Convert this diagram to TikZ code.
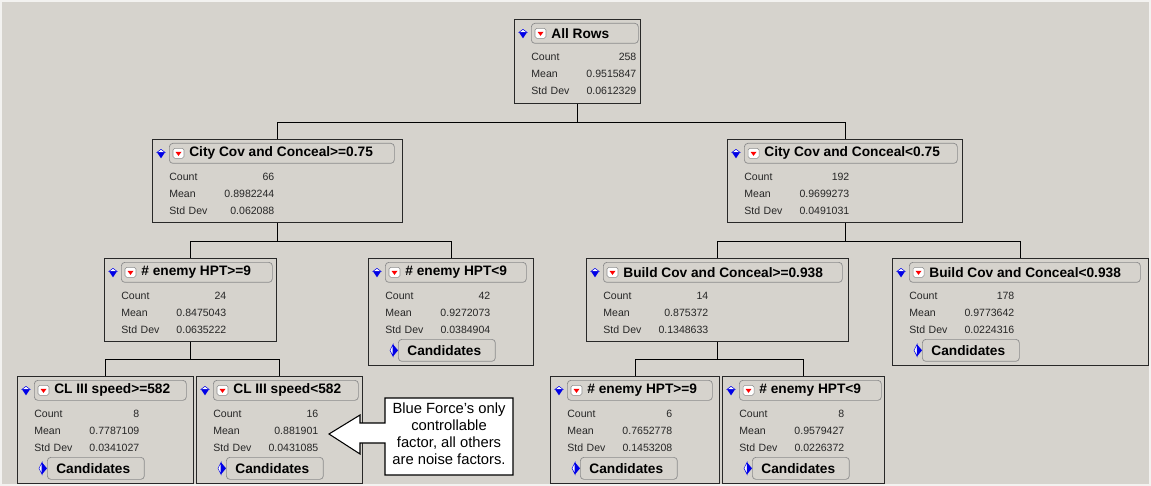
\documentclass[tikz,border=0pt]{standalone}
\usepackage{fontspec}
\setmainfont{Liberation Sans}

\definecolor{panel}{RGB}{214,211,205}
\definecolor{btnedge}{RGB}{140,140,140}
\definecolor{boxedge}{RGB}{40,40,40}
\definecolor{marker}{RGB}{0,0,230}

\tikzset{
  splitbox/.style={draw=boxedge, fill=panel, line width=0.6pt, inner sep=0pt},
  boxsize/.style 2 args={minimum width=#1*0.02cm, minimum height=#2*0.02cm},
  hdrbtn/.style={draw=btnedge, fill=panel, rounded corners=2pt, inner sep=0pt, minimum height=0.4cm},
  titletext/.style={inner sep=0pt, font=\fontsize{7.8}{9}\selectfont\bfseries, text=black},
  stattext/.style={inner sep=0pt, text width=2.1cm, align=left, font=\fontsize{6}{9.64}\selectfont, text=black!85},
  candbtn/.style={hdrbtn, minimum width=1.94cm, minimum height=0.44cm},
  link/.style={draw=black, line width=0.6pt},
}

% header button, icons and the three statistics of one split box
\newcommand{\splitparts}[6]{%
  \node[hdrbtn, minimum width=#2*0.02cm, anchor=north west] (#1-hdr) at ([shift={(17,4)}]#1.north west) {};
  \node[titletext, anchor=west] (#1-title) at ([shift={(20,0)}]#1-hdr.west) {#3};
  \draw[btnedge, fill=white, rounded corners=1pt, line width=0.3pt] ([shift={(4,-5)}]#1-hdr.west) rectangle ++(11,10);
  \fill[red] ([shift={(6.5,-1.5)}]#1-hdr.west) -- ++(6,0) -- ++(-3,4) -- cycle;
  \filldraw[draw=marker, fill=white, line width=0.3pt] ([shift={(-12,-1)}]#1-hdr.west) -- ++(4,-3) -- ++(4,3) -- cycle;
  \fill[marker] ([shift={(-12,-1)}]#1-hdr.west) -- ++(8,0) -- ++(-4,6) -- cycle;
  \node[stattext, anchor=north west] (#1-stats) at ([shift={(0,30)}]#1-hdr.north west)
    {Count\hfill #4\\ Mean\hfill #5\\ Std Dev\hfill #6};
}

% candidates button
\newcommand{\candparts}[1]{%
  \node[candbtn, anchor=north west] (#1-cand) at ([shift={(30,81)}]#1.north west) {};
  \node[titletext, anchor=west] (#1-candtext) at ([shift={(9,0)}]#1-cand.west) {Candidates};
  \filldraw[draw=marker, fill=white, line width=0.3pt] ([shift={(-5,-6)}]#1-cand.west) -- ++(-3,6) -- ++(3,6) -- cycle;
  \fill[marker] ([shift={(-5,-6)}]#1-cand.west) -- ++(5,6) -- ++(-5,6) -- cycle;
}

\begin{document}
\begin{tikzpicture}[x=0.02cm, y=-0.02cm]

\useasboundingbox (0,0) rectangle (1151,486);
\fill[panel] (0,0) rectangle (1151,486);
\draw[white!70!panel, line width=0.6pt] (1,1) rectangle (1150,485);

% boxes
\node[splitbox, boxsize={126}{84}, anchor=north west] (root) at (514,19) {};
\node[splitbox, boxsize={250}{83}, anchor=north west] (cityA) at (152,139) {};
\node[splitbox, boxsize={235}{83}, anchor=north west] (cityB) at (727,139) {};
\node[splitbox, boxsize={172}{83}, anchor=north west] (hptA) at (104,258) {};
\node[splitbox, boxsize={165}{107}, anchor=north west] (hptB) at (368,258) {};
\node[splitbox, boxsize={262}{83}, anchor=north west] (buildA) at (586,258) {};
\node[splitbox, boxsize={256}{107}, anchor=north west] (buildB) at (892,258) {};
\node[splitbox, boxsize={176}{107}, anchor=north west] (speedA) at (17,376) {};
\node[splitbox, boxsize={166}{107}, anchor=north west] (speedB) at (196,376) {};
\node[splitbox, boxsize={169}{107}, anchor=north west] (hptC) at (550,376) {};
\node[splitbox, boxsize={162}{107}, anchor=north west] (hptD) at (722,376) {};

% connectors
\draw[link] (root.south) -- ++(0,18) -| (cityA.north);
\draw[link] (root.south) -- ++(0,18) -| (cityB.north);
\draw[link] (cityA.south) -- ++(0,18) -| (hptA.north);
\draw[link] (cityA.south) -- ++(0,18) -| (hptB.north);
\draw[link] (cityB.south) -- ++(0,18) -| (buildA.north);
\draw[link] (cityB.south) -- ++(0,18) -| (buildB.north);
\draw[link] (hptA.south) -- ++(0,17) -| (speedA.north);
\draw[link] (hptA.south) -- ++(0,17) -| (speedB.north);
\draw[link] (buildA.south) -- ++(0,17) -| (hptC.north);
\draw[link] (buildA.south) -- ++(0,17) -| (hptD.north);

% contents
\splitparts{root}{107}{All Rows}{258}{0.9515847}{0.0612329}
\splitparts{cityA}{225}{City Cov and Conceal>=0.75}{66}{0.8982244}{0.062088}
\splitparts{cityB}{213}{City Cov and Conceal<0.75}{192}{0.9699273}{0.0491031}
\splitparts{hptA}{151}{\# enemy HPT>=9}{24}{0.8475043}{0.0635222}
\splitparts{hptB}{141}{\# enemy HPT<9}{42}{0.9272073}{0.0384904}
\splitparts{buildA}{239}{Build Cov and Conceal>=0.938}{14}{0.875372}{0.1348633}
\splitparts{buildB}{231}{Build Cov and Conceal<0.938}{178}{0.9773642}{0.0224316}
\splitparts{speedA}{152}{CL III speed>=582}{8}{0.7787109}{0.0341027}
\splitparts{speedB}{145}{CL III speed<582}{16}{0.881901}{0.0431085}
\splitparts{hptC}{145}{\# enemy HPT>=9}{6}{0.7652778}{0.1453208}
\splitparts{hptD}{142}{\# enemy HPT<9}{8}{0.9579427}{0.0226372}

\candparts{hptB}
\candparts{buildB}
\candparts{speedA}
\candparts{speedB}
\candparts{hptC}
\candparts{hptD}

% callout
\draw[fill=white, line width=0.6pt] (513,398) -- (385,398) -- (385,423) -- (360,423) -- (360,415)
  -- (329,434) -- (360,454) -- (360,443) -- (385,443) -- (385,475) -- (513,475) -- cycle;
\node[font=\fontsize{8.4}{9.64}\selectfont, align=center, inner sep=0pt] (note) at (449,434)
  {Blue Force’s only\\controllable\\factor, all others\\are noise factors.};

\end{tikzpicture}
\end{document}
